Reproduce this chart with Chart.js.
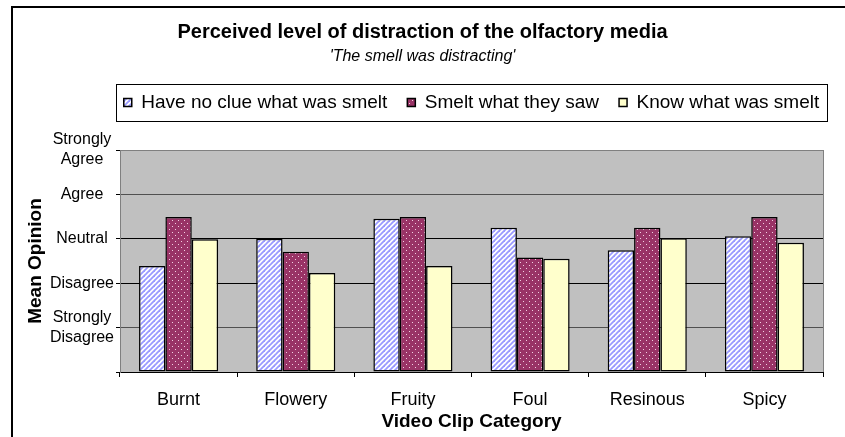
<!DOCTYPE html>
<html>
<head>
<meta charset="utf-8">
<script src="https://cdn.jsdelivr.net/npm/chart.js@4.4.1/dist/chart.umd.min.js"></script>
<style>
  html, body { margin: 0; padding: 0; background: #ffffff; overflow: hidden; }
  #wrap { position: relative; width: 845px; height: 437px; }
</style>
</head>
<body>
<div id="wrap"><canvas id="c" width="845" height="437"></canvas></div>
<script>
// ---------- data ----------
const categories = ['Burnt', 'Flowery', 'Fruity', 'Foul', 'Resinous', 'Spicy'];
const seriesNames = ['Have no clue what was smelt', 'Smelt what they saw', 'Know what was smelt'];
const noClue   = [2.39, 3.00, 3.45, 3.25, 2.74, 3.06];
const smeltSaw = [3.49, 2.71, 3.49, 2.58, 3.25, 3.49];
const knowWhat = [2.99, 2.23, 2.39, 2.55, 3.01, 2.91];
const yTickLabels = { 5: ['Strongly', 'Agree'], 4: 'Agree', 3: 'Neutral', 2: 'Disagree', 1: ['Strongly', 'Disagree'], 0: '' };
const chartTitle = 'Perceived level of distraction of the olfactory media';
const chartSubtitle = "'The smell was distracting'";
const xTitle = 'Video Clip Category';
const yTitle = 'Mean Opinion';

// ---------- fill patterns ----------
function stripePattern() {
  const s = 5, c = document.createElement('canvas');
  c.width = s; c.height = s;
  const g = c.getContext('2d');
  g.fillStyle = '#ffffff'; g.fillRect(0, 0, s, s);
  g.strokeStyle = '#9999ff'; g.lineWidth = 1.8;
  [[-1, s + 1, s + 1, -1], [-1, 1, 1, -1], [s - 1, s + 1, s + 1, s - 1]].forEach(l => {
    g.beginPath(); g.moveTo(l[0], l[1]); g.lineTo(l[2], l[3]); g.stroke();
  });
  return g.createPattern(c, 'repeat');
}
function dotPattern() {
  const s = 6, c = document.createElement('canvas');
  c.width = s; c.height = s;
  const g = c.getContext('2d');
  g.fillStyle = '#993366'; g.fillRect(0, 0, s, s);
  g.fillStyle = '#f2d0e2';
  g.fillRect(1, 1, 1, 1); g.fillRect(4, 4, 1, 1);
  return g.createPattern(c, 'repeat');
}

const FONT = "'Liberation Sans', Arial, sans-serif";
const LEGEND_PAD = 20;
const LEGEND_FONT = 19;

const frame = {
  id: 'frame',
  beforeLayout(chart) {
    const lg = chart.legend;
    if (lg && !lg._patched) {
      const orig = lg.fit.bind(lg);
      lg.fit = function () { orig(); this.height = 77; };
      lg._patched = true;
    }
  },
  afterLayout(chart) {
    const lg = chart.legend, a = chart.chartArea;
    lg.left = a.left - LEGEND_PAD; lg.right = a.right + LEGEND_PAD; lg.width = lg.right - lg.left;
    // centre title and subtitle on the whole canvas
    chart.boxes.forEach(b => {
      if (b !== lg && b.position === 'top' && b.options && b.options.text !== undefined) {
        b.left = 0; b.right = chart.width; b.width = chart.width;
      }
    });
  },
  beforeDraw(chart) {
    const { ctx, chartArea: a } = chart;
    ctx.save();
    ctx.fillStyle = '#ffffff';
    ctx.fillRect(0, 0, chart.width, chart.height);
    ctx.fillStyle = '#c0c0c0';
    ctx.fillRect(a.left, a.top, a.right - a.left, a.bottom - a.top);
    ctx.restore();
  },
  beforeDatasetsDraw(chart) {
    const { ctx, chartArea: a } = chart;
    ctx.save();
    ctx.strokeStyle = '#808080'; ctx.lineWidth = 1;
    ctx.beginPath();
    ctx.moveTo(Math.round(a.right) + 0.5, a.top);
    ctx.lineTo(Math.round(a.right) + 0.5, a.bottom);
    ctx.stroke();
    ctx.restore();
  },
  afterDraw(chart) {
    const { ctx, chartArea: a } = chart;
    const lg = chart.legend;
    const cy = lg.top + LEGEND_PAD + LEGEND_FONT / 2;
    ctx.save();
    ctx.strokeStyle = '#000000'; ctx.lineWidth = 1;
    ctx.strokeRect(Math.round(a.left - 4) + 0.5, Math.round(cy - 18.5) + 0.5,
                   Math.round(a.right - a.left + 8), 37);
    // outer chart frame
    ctx.lineWidth = 2;
    ctx.strokeRect(12, 7, chart.width + 20, chart.height + 20);
    ctx.restore();
  }
};

const ctx = document.getElementById('c').getContext('2d');
new Chart(ctx, {
  type: 'bar',
  data: {
    labels: categories,
    datasets: [
      { label: seriesNames[0], data: noClue,   backgroundColor: stripePattern(), borderColor: '#000', borderWidth: 1.5, borderSkipped: false },
      { label: seriesNames[1], data: smeltSaw, backgroundColor: dotPattern(),    borderColor: '#000', borderWidth: 1.5, borderSkipped: false },
      { label: seriesNames[2], data: knowWhat, backgroundColor: '#ffffcc',       borderColor: '#000', borderWidth: 1.5, borderSkipped: false }
    ]
  },
  options: {
    responsive: false,
    animation: false,
    devicePixelRatio: 1,
    layout: { padding: { left: 0, right: 22, top: 0, bottom: 0 } },
    datasets: { bar: { barPercentage: 1.0, categoryPercentage: 0.675 } },
    plugins: {
      title: {
        display: true, text: chartTitle, color: '#000',
        font: { family: FONT, size: 20, weight: 'bold', lineHeight: 1.2 },
        padding: { top: 20, bottom: 0 }
      },
      subtitle: {
        display: true, text: chartSubtitle, color: '#000',
        font: { family: FONT, size: 16, style: 'italic', lineHeight: 1.2 },
        padding: { top: 3, bottom: 6.8 }
      },
      legend: {
        display: true, position: 'top', align: 'center',
        labels: {
          color: '#000', boxWidth: 8, boxHeight: 8, padding: LEGEND_PAD,
          font: { family: FONT, size: LEGEND_FONT }
        }
      },
      tooltip: { enabled: false }
    },
    scales: {
      x: {
        grid: { display: true, drawOnChartArea: false, drawTicks: true, tickLength: 5, color: '#000', offset: true },
        border: { display: true, color: '#000', width: 1 },
        ticks: { color: '#000', padding: 12, font: { family: FONT, size: 18 } },
        title: { display: true, text: xTitle, color: '#000', font: { family: FONT, size: 19, weight: 'bold', lineHeight: 1.2 }, padding: { top: 0, bottom: 4 } },
        afterFit(s) { s.height = 65; }
      },
      y: {
        min: 0, max: 5,
        grid: {
          drawTicks: true, tickLength: 4, tickColor: '#000',
          color: c => c.tick.value === 5 ? '#808080' : (c.tick.value === 0 ? 'rgba(0,0,0,0)' : (c.tick.value === 1 || c.tick.value === 4 ? '#505050' : '#000'))
        },
        border: { display: true, color: '#808080', width: 1 },
        ticks: {
          stepSize: 1, color: '#000', padding: 2, crossAlign: 'center',
          font: { family: FONT, size: 16, lineHeight: 1.25 },
          callback: v => yTickLabels[v]
        },
        title: { display: true, text: yTitle, color: '#000', font: { family: FONT, size: 19, weight: 'bold', lineHeight: 1.2 }, padding: { top: 24, bottom: 0 } },
        afterFit(s) { s.width = 120; }
      }
    }
  },
  plugins: [frame]
});
</script>
</body>
</html>
